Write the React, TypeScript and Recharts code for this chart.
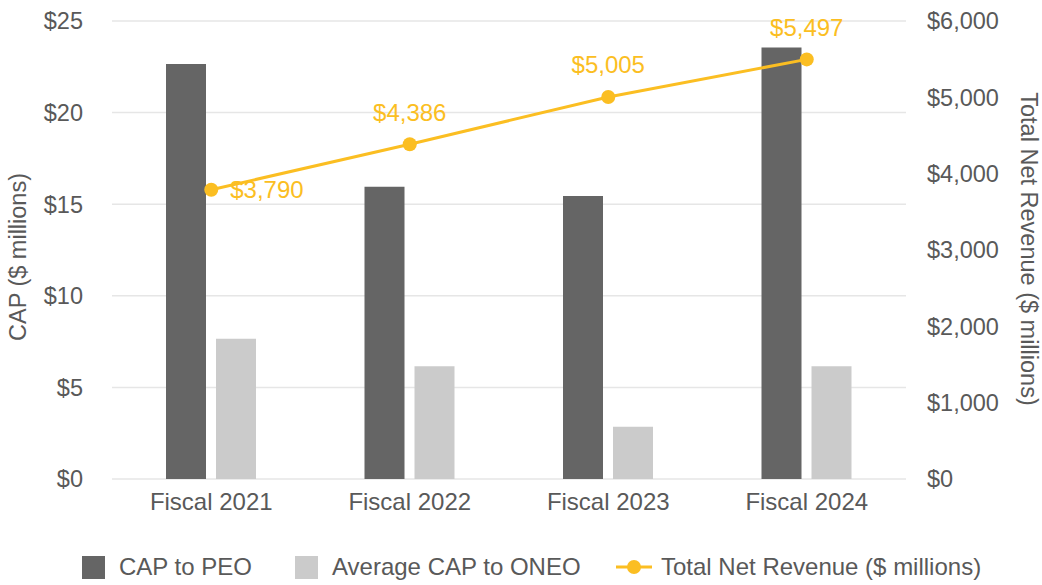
import React from 'react';
import { ComposedChart, Bar, Line, XAxis, YAxis, CartesianGrid, Legend, LabelList, Label } from 'recharts';

const categories = ['Fiscal 2021', 'Fiscal 2022', 'Fiscal 2023', 'Fiscal 2024'];
const capToPeo = [22.65, 15.95, 15.45, 23.55];
const avgCapToOneo = [7.65, 6.15, 2.85, 6.15];
const totalNetRevenue = [3790, 4386, 5005, 5497];
const leftTicks = [0, 5, 10, 15, 20, 25];
const rightTicks = [0, 1000, 2000, 3000, 4000, 5000, 6000];

const data = categories.map((c, i) => ({
  name: c,
  peo: capToPeo[i],
  oneo: avgCapToOneo[i],
  rev: totalNetRevenue[i],
}));

const FONT = 'Liberation Sans, Arial, sans-serif';
const TEXT = '#595959';
const DARK = '#656565';
const LIGHT = '#CBCBCB';
const GOLD = '#FBBE22';
const FS = 24;
const TFS = 23.5;

const fmtRev = (v: number) => '$' + v.toLocaleString('en-US');

const RevLabel = (props: any) => {
  const { x, y, value, index } = props;
  if (index === 0) {
    return (
      <text x={x + 19} y={y} dy="0.35em" textAnchor="start" fill={GOLD} fontSize={FS} fontFamily={FONT}>
        {fmtRev(value)}
      </text>
    );
  }
  return (
    <text x={x} y={y - 32} dy="0.35em" textAnchor="middle" fill={GOLD} fontSize={FS} fontFamily={FONT}>
      {fmtRev(value)}
    </text>
  );
};

const itemText: React.CSSProperties = { position: 'absolute', top: 0, lineHeight: '30px', whiteSpace: 'nowrap' };

const LegendContent = () => (
  <div style={{ position: 'relative', width: 1042, height: 30, fontFamily: FONT, fontSize: FS, color: TEXT }}>
    <svg width={23} height={23} style={{ position: 'absolute', left: 80, top: 4 }}><rect width={23} height={23} fill={DARK} /></svg>
    <span style={{ ...itemText, left: 117 }}>CAP to PEO</span>
    <svg width={23} height={23} style={{ position: 'absolute', left: 293, top: 4 }}><rect width={23} height={23} fill={LIGHT} /></svg>
    <span style={{ ...itemText, left: 330 }}>Average CAP to ONEO</span>
    <svg width={36} height={22} style={{ position: 'absolute', left: 614, top: 4 }}>
      <line x1={0} y1={11} x2={36} y2={11} stroke={GOLD} strokeWidth={3} />
      <circle cx={18} cy={11} r={7} fill={GOLD} />
    </svg>
    <span style={{ ...itemText, left: 659 }}>Total Net Revenue ($ millions)</span>
  </div>
);

const LeftTitle = (props: any) => {
  const vb = props.viewBox || {};
  const cx = 18;
  const cy = vb.y + vb.height / 2 + 7;
  return (
    <text x={cx} y={cy} transform={`rotate(-90 ${cx} ${cy})`} textAnchor="middle" dy="0.35em" fill={TEXT} fontSize={TFS} fontFamily={FONT}>
      CAP ($ millions)
    </text>
  );
};

const RightTitle = (props: any) => {
  const vb = props.viewBox || {};
  const cx = vb.x + vb.width - 13;
  const cy = vb.y + vb.height / 2 - 1;
  return (
    <text x={cx} y={cy} transform={`rotate(90 ${cx} ${cy})`} textAnchor="middle" dy="0.35em" fill={TEXT} fontSize={TFS} fontFamily={FONT}>
      Total Net Revenue ($ millions)
    </text>
  );
};

export default function App() {
  return (
    <div style={{ position: 'fixed', left: 0, top: 0, width: 1042, height: 585, background: '#fff' }}>
      <ComposedChart
        width={1042}
        height={585}
        data={data}
        margin={{ top: 21, right: 0, bottom: 3, left: 2 }}
        barSize={40}
        barGap={10}
      >
        <CartesianGrid yAxisId="left" vertical={false} stroke="#E6E6E6" strokeWidth={1.5} />
        <XAxis
          dataKey="name"
          axisLine={false}
          tickLine={false}
          tickSize={0}
          tickMargin={14}
          height={73}
          tick={{ fill: TEXT, fontSize: FS, fontFamily: FONT }}
        />
        <YAxis
          yAxisId="left"
          orientation="left"
          domain={[0, 25]}
          ticks={leftTicks}
          tickFormatter={(v: number) => '$' + v}
          axisLine={false}
          tickLine={false}
          tickSize={0}
          tickMargin={29}
          width={110}
          tick={{ fill: TEXT, fontSize: TFS, fontFamily: FONT }}
        >
          <Label content={LeftTitle} />
        </YAxis>
        <YAxis
          yAxisId="right"
          orientation="right"
          domain={[0, 6000]}
          ticks={rightTicks}
          tickFormatter={fmtRev}
          axisLine={false}
          tickLine={false}
          tickSize={0}
          tickMargin={21}
          width={136}
          tick={{ fill: TEXT, fontSize: TFS, fontFamily: FONT, textAnchor: 'start' }}
        >
          <Label content={RightTitle} />
        </YAxis>
        <Legend verticalAlign="bottom" height={30} content={LegendContent} />
        <Bar yAxisId="left" dataKey="peo" name="CAP to PEO" fill={DARK} isAnimationActive={false} />
        <Bar yAxisId="left" dataKey="oneo" name="Average CAP to ONEO" fill={LIGHT} isAnimationActive={false} />
        <Line
          yAxisId="right"
          dataKey="rev"
          name="Total Net Revenue ($ millions)"
          stroke={GOLD}
          strokeWidth={3}
          dot={{ r: 7, fill: GOLD, stroke: GOLD, strokeWidth: 0 }}
          isAnimationActive={false}
        >
          <LabelList dataKey="rev" content={RevLabel} />
        </Line>
      </ComposedChart>
    </div>
  );
}
